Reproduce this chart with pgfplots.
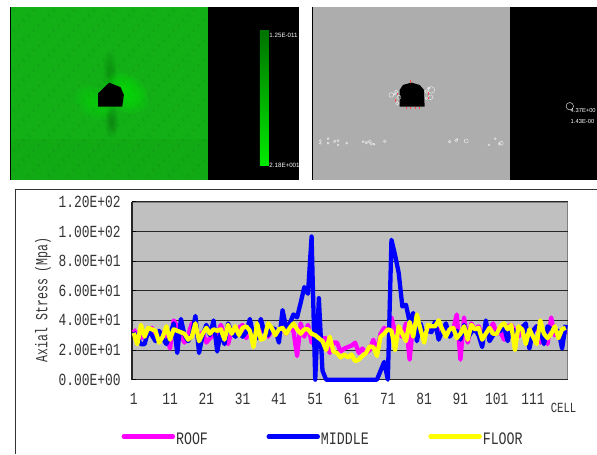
\documentclass[border=0pt]{standalone}
\usepackage{fontspec}
\setmainfont{Liberation Sans}
\newfontfamily\chartfont[FakeStretch=0.76]{Liberation Mono}
\newfontfamily\chartnarrow[FakeStretch=0.68]{Liberation Mono}
\usepackage{pgfplots}
\pgfplotsset{compat=1.18}
\usepackage{pgfplotstable}
\definecolor{plotbg}{RGB}{192,192,192}
\definecolor{basegreen}{RGB}{18,176,22}
\definecolor{brightgreen}{RGB}{0,235,0}
\definecolor{mag}{RGB}{255,0,255}
\definecolor{ylw}{RGB}{255,255,0}
\definecolor{blu}{RGB}{0,0,255}
\pgfplotstableread{
c r m f
1 34 32 31.5
2 30 28 24
3 28 24 37
4 30 24 29
5 33 33 35
6 35 30 34
7 30 26 33
8 30 33 25
9 32 28 29
10 31 24 36
11 21 30 27
12 40 38 34
13 36 18 33
14 30 41 32
15 25 30 31
16 30 26 27
17 38 30 29
18 33 43 38
19 30 18 26
20 32 30 31
21 25 37 35
22 28 30 31
23 30 40 34
24 30 19 33
25 37 32 34
26 30 24 27
27 24 38 37
28 33 32 31
29 32 29 36
30 35 32 30
31 37 29 35
32 28 32 36
33 34 41 33
34 33 29 22
35 32 28 38
36 34 41 27
37 32 32 28
38 29 30 38
39 33 35 35
40 34 34 30
41 32 25 34
42 34 47 35
43 31 35 31
44 35 38 35
45 33 44 38
46 16 42 34
47 38 52 31
48 29 62.5 34
49 37 58 34
50 25 96.6 31
51 30 0 30
52 26 55 28
53 28 6 26
54 28 0 20
55 18 0 29
56 25 0 19
57 25 0 18
58 19 0 15
59 21 0 17
60 22 0 15
61 23 0 17
62 25 0 12.5
63 18 0 13.5
64 21 0 16
65 18 0 18
66 20 0 22.5
67 27 0 22
68 18 0 16
69 31 6 29
70 35 12 31
71 32 0 34
72 42 94.4 33
73 32 84 20
74 31 72 36
75 29 49.4 31
76 38 50.5 26
77 13.5 39 39
78 38 45 29
79 33 26 44
80 36 38 34
81 30 30 25
82 34 33 37
83 33 32 36
84 35 39 36
85 34 27 40
86 32 33 34
87 33 38 29
88 30 29 34
89 34 32 35
90 44 33 28
91 13.5 27 31
92 42 37 36
93 25 28 27
94 38 32 37
95 34 34 34
96 36 30 35
97 30 22 27
98 32 40 31
99 34 26 35
100 38 30 31
101 31 32 31
102 32 33 36
103 27 36 38
104 36 26 34
105 37 35 37
106 33 32 20
107 29 33 36
108 36 35 34
109 33 38 24
110 28 21 34
111 33 33 29
112 36 36 24
113 25 34 40
114 33 24 31
115 24 36 28
116 42 34 31
117 30 33 36
118 32 33 28
119 28 21 34
120 33 37 35
}\stress
\begin{document}
\begin{tikzpicture}
\begin{scope}[x=1pt,y=-1pt]
\fill[white] (0,0) rectangle (597,454);
% left panel
\fill[black] (208,7) rectangle (299,180);
\fill[basegreen] (10,7) rectangle (208,180);
\fill[black] (10,7) rectangle (11,180);
\foreach \i in {0,...,38}{\foreach \j in {0,...,33}{
  \pgfmathtruncatemacro{\k}{mod(\i*7+\j*3,4)}
  \ifnum\k=0\draw[black,opacity=.10,line width=.8pt] ({13+\i*5},{9+\j*5})--+(1.5,3);\fi
  \ifnum\k=2\draw[green,opacity=.12,line width=.8pt] ({13+\i*5},{9+\j*5})--+(1.5,3);\fi
}}
\foreach \s in {1,0.85,0.7,0.55,0.4,0.25}{
  \fill[brightgreen,opacity=.14,rotate around={-35:(126,93)}] (126,93) ellipse ({24*\s} and {18*\s});
  \fill[brightgreen,opacity=.08,rotate around={-35:(95,103)}] (95,103) ellipse ({22*\s} and {15*\s});
  \fill[black,opacity=.025] (110,70) ellipse ({7*\s} and {20*\s});
  \fill[black,opacity=.035] (112,122) ellipse ({7*\s} and {16*\s});
}
\fill[black,opacity=.03] (11,139) rectangle (208,180);
\fill[black] (98.3,93.3)--(109.3,82.7)--(120.7,87.3)--(124,95)--(122.3,106.7)--(98.3,106.7)--cycle;
\shade[top color={rgb,255:red,0;green,115;blue,0},bottom color={rgb,255:red,0;green,235;blue,0}] (260,31) rectangle (269,166);
\begin{scope}
\clip (208,7) rectangle (299,180);
\node[anchor=west,inner sep=0pt,white,font=\fontsize{6.2}{7}\selectfont] at (269.5,35) {1.25E-011};
\node[anchor=west,inner sep=0pt,white,font=\fontsize{6.2}{7}\selectfont] at (269.5,165.5) {2.18E+001};
\end{scope}
% right panel
\fill[black] (510,7) rectangle (597,180);
\fill[black!32] (312,7) rectangle (510,180);
\fill[black] (312,7) rectangle (313,180);
\fill[black] (400,106.7)--(400,90)--(403.3,85)--(411.7,82.7)--(420,85)--(424.3,90)--(425,106.7)--cycle;
\foreach \zx/\zy/\r in {260/285/7,275/275/5,283/292/6,278/310/5,270/282/3,380/270/10,365/275/5,378/292/7,365/295/4,372/265/4,47/422/3,47/430/3,70/416/3,70/430/3,90/424/4,100/422/3,100/435/3,126/430/3,175/425/3,185/428/4,195/425/5,200/432/4,208/433/3,240/424/4,435/425/4,455/422/4,458/418/2,485/423/6,553/435/3,572/416/3,590/430/6,585/432/4}
  \draw[white,opacity=.8,line width=.4pt] ({305+\zx/3},{\zy/3}) circle ({\r/3});
\foreach \zx/\zy/\zb in {316/240/248,277/278/286,272/298/306,371/276/284,371/290/298,304/320/328,318/320/328,331/320/328,345/320/328}
  \draw[red!70!white,line width=.4pt] ({305+\zx/3},{\zy/3})--({305+\zx/3},{\zb/3});
\draw[white,line width=.4pt] (570.3,106.3) circle (3.7);
\node[anchor=west,inner sep=0pt,white,font=\fontsize{5.8}{7}\selectfont] at (571,110.5) {4.37E+00};
\node[anchor=west,inner sep=0pt,white,font=\fontsize{5.8}{7}\selectfont] at (571,121.5) {1.43E-00};
% chart box
\draw[black!80,line width=1pt] (15,189.5)--(597,189.5);
\draw[black!80,line width=1pt] (15.5,189)--(15.5,454);
% plot area
\fill[plotbg] (132,202) rectangle (568,380);
\draw[black!50,line width=1.6pt] (132,202)--(568,202)--(568,380);
\draw[black!85,line width=1.6pt] (132,202)--(132,380)--(568,380);
% legend
\draw[mag,line width=4.5pt,line cap=round] (124,437)--(173,437);
\draw[blu,line width=4.5pt,line cap=round] (269,437)--(318,437);
\draw[ylw,line width=4.5pt,line cap=round] (431,437)--(480,437);
\foreach \x/\t in {176/ROOF,321/MIDDLE,483/FLOOR}
  \node[anchor=west,inner sep=0pt,font=\chartfont\fontsize{17.5}{18}\selectfont,text=black!80] at (\x,439) {\t};
\node[anchor=center,inner sep=0pt,font=\chartfont\fontsize{14}{15}\selectfont,text=black!80] at (564,408.5) {CELL};
\node[rotate=90,anchor=center,inner sep=0pt,font=\chartnarrow\fontsize{17}{18}\selectfont,text=black!80] at (43,300) {Axial Stress (Mpa)};
\end{scope}
\begin{axis}[
  at={(132pt,-380pt)},anchor=south west,
  scale only axis,width=436pt,height=178pt,
  xmin=0.5,xmax=120.5,ymin=0,ymax=120,
  axis line style={draw=none},
  clip=false,
  xtick={1,11,21,31,41,51,61,71,81,91,101,111},
  xticklabels={1,11,21,31,41,51,61,71,81,91,101,111},
  minor xtick={0.5,1.5,...,120.5},
  major tick length=4pt,minor tick length=4pt,
  xtick pos=bottom,ytick pos=left,
  tick align=inside,
  xtick style={draw=none},
  minor tick style={black!85,line width=.6pt},
  ytick={0,20,40,60,80,100,120},
  yticklabels={0.00E+00,2.00E+01,4.00E+01,6.00E+01,8.00E+01,1.00E+02,1.20E+02},
  ytick style={black,line width=.8pt},
  ymajorgrids,
  major grid style={black!85,line width=.8pt},
  tick label style={font=\chartfont\fontsize{17}{18}\selectfont,text=black!80,inner sep=0pt},
  yticklabel style={xshift=-11pt},
  xticklabel style={yshift=-13pt},
  every axis plot/.append style={line width=4.3pt,line join=round,mark=none},
]
\addplot[mag] table[x=c,y=r]{\stress};
\addplot[blu] table[x=c,y=m]{\stress};
\addplot[ylw] table[x=c,y=f]{\stress};
\end{axis}
\end{tikzpicture}
\end{document}
